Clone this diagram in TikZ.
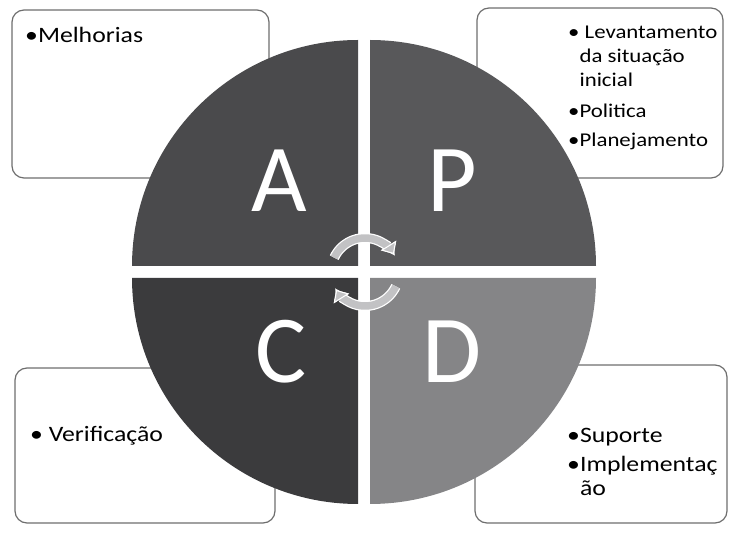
\documentclass[tikz,border=0pt]{standalone}
\usepackage{fontspec}
\setmainfont{Carlito}
\newfontfamily\itemfont[FakeStretch=1.17]{Carlito}
\usetikzlibrary{arrows.meta}
\definecolor{quadA}{HTML}{4A4A4C}
\definecolor{quadP}{HTML}{58585A}
\definecolor{quadC}{HTML}{3B3B3D}
\definecolor{quadD}{HTML}{858587}
\definecolor{boxgray}{HTML}{6E6E6E}
\definecolor{turngray}{HTML}{C2C2C4}
\begin{document}
\begin{tikzpicture}[
  x=1pt,y=1pt,
  box/.style={draw=boxgray,line width=1.2pt,rounded corners=12pt,fill=white},
  letter/.style={text=white,font=\fontsize{96}{96}\selectfont,anchor=base,inner sep=0pt},
  item/.style={font=\itemfont\fontsize{22}{24.5}\selectfont,align=left,anchor=base west,inner sep=0pt},
  turn/.style={line width=7.5pt,draw=turngray,
    -{Triangle[width=18pt,length=10pt,fill=turngray,color=white,line width=1pt]},
    preaction={draw=white,line width=10pt}}
]
\useasboundingbox (0,0) rectangle (729,533);
% text boxes behind the circle
\node[box,minimum width=257pt,minimum height=168pt] (boxA) at (140.5,439) {};
\node[box,minimum width=246pt,minimum height=170pt] (boxP) at (600,440) {};
\node[box,minimum width=260pt,minimum height=155pt] (boxC) at (145,87.5) {};
\node[box,minimum width=252pt,minimum height=158pt] (boxD) at (601,89) {};
% base anchor sits on the last line
\node[item] (txtA) at (25,490) {•Melhorias};
\node[item,font=\itemfont\fontsize{19.5}{24}\selectfont] (txtP) at (568,386) {•\ Levantamento\\
  \phantom{•}da situação\\
  \phantom{•}inicial\\[7pt]
  •Politica\\[5pt]
  •Planejamento};
\node[item] (txtC) at (30,91) {•\ Verificação};
\node[item] (txtD) at (567,37) {•Suporte\\[4pt]
  •Implementaç\\
  \phantom{•}ão};
% the four quarters
\fill[quadA] (358,267) -- ++(-226,0) arc[start angle=180,end angle=90,radius=226] -- cycle;
\fill[quadP] (370,267) -- ++(0,226) arc[start angle=90,end angle=0,radius=226] -- cycle;
\fill[quadD] (370,255) -- ++(226,0) arc[start angle=0,end angle=-90,radius=226] -- cycle;
\fill[quadC] (358,255) -- ++(0,-226) arc[start angle=270,end angle=180,radius=226] -- cycle;
\node[letter] (lA) at (279,321) {A};
\node[letter] (lP) at (452,321) {P};
\node[letter] (lC) at (281,150) {C};
\node[letter] (lD) at (452,150) {D};
% turning arrows
\coordinate (hub) at (365,261);
\draw[turn] (hub) ++(155:34) arc[start angle=155,end angle=32,radius=34];
\draw[turn] (hub) ++(-25:34) arc[start angle=-25,end angle=-148,radius=34];
\end{tikzpicture}
\end{document}
